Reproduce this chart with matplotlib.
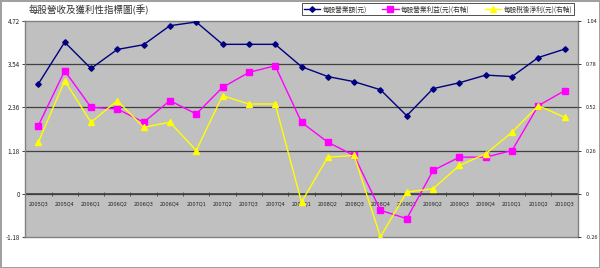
import numpy as np
import matplotlib.pyplot as plt

plt.rcParams['font.family'] = ['Noto Sans CJK TC', 'DejaVu Sans']

quarters = ['2005Q3', '2005Q4', '2006Q1', '2006Q2', '2006Q3', '2006Q4', '2007Q1',
            '2007Q2', '2007Q3', '2007Q4', '2008Q1', '2008Q2', '2008Q3', '2008Q4',
            '2009Q1', '2009Q2', '2009Q3', '2009Q4', '2010Q1', '2010Q2', '2010Q3']

# left axis
revenue = [3.00, 4.14, 3.42, 3.94, 4.07, 4.59, 4.69, 4.08, 4.08, 4.08, 3.47,
           3.20, 3.06, 2.84, 2.13, 2.87, 3.03, 3.24, 3.20, 3.72, 3.95]
# right axis
op_profit = [0.41, 0.74, 0.52, 0.51, 0.43, 0.56, 0.48, 0.64, 0.73, 0.77, 0.43,
             0.31, 0.23, -0.10, -0.15, 0.14, 0.22, 0.22, 0.26, 0.53, 0.62]
net_profit = [0.31, 0.68, 0.43, 0.56, 0.40, 0.43, 0.26, 0.59, 0.54, 0.54, -0.05,
              0.22, 0.23, -0.26, 0.01, 0.03, 0.17, 0.24, 0.37, 0.53, 0.46]

left_ticks = [-1.18, 0, 1.18, 2.36, 3.54, 4.72]
right_ticks = [-0.26, 0, 0.26, 0.52, 0.78, 1.04]

fig = plt.figure(figsize=(6, 2.68), dpi=100)
fig.patch.set_edgecolor('#a0a0a0')
fig.patch.set_linewidth(2)
ax = fig.add_axes([0.042, 0.116, 0.921, 0.806])
ax.set_facecolor('#c0c0c0')

x = np.arange(len(quarters))
ax.set_xlim(-0.5, len(quarters) - 0.5)
ax.set_ylim(left_ticks[0], left_ticks[-1])
ax.set_yticks(left_ticks)
ax.set_yticklabels(['-1.18', '0', '1.18', '2.36', '3.54', '4.72'], fontsize=4.5)
ax.set_xticks([])
for v in left_ticks[1:-1]:
    ax.axhline(v, color='#404040', lw=0.9, zorder=1)
ax.axhline(0, color='#404040', lw=1.2, zorder=1)
# small tick marks between categories on the zero line
ax.plot(x[:-1] + 0.5, np.zeros(len(x) - 1), ls='none', marker='|', ms=2.5,
        color='#404040', mew=0.6, zorder=1)
for xi, q in zip(x, quarters):
    ax.text(xi, -0.2, q, fontsize=3.6, ha='center', va='top', color='#202020',
            family='DejaVu Sans')

for s in ax.spines.values():
    s.set_color('#808080')
    s.set_linewidth(1)
ax.tick_params(axis='y', length=2, width=0.6, pad=2, colors='#202020')

l1, = ax.plot(x, revenue, color='#000080', marker='D', ms=2.8, lw=1.0, zorder=3,
              label='每股營業額(元)')

ax2 = ax.twinx()
ax2.set_ylim(right_ticks[0], right_ticks[-1])
ax2.set_yticks(right_ticks)
ax2.set_yticklabels(['-0.26', '0', '0.26', '0.52', '0.78', '1.04'], fontsize=4)
ax2.tick_params(axis='y', length=2, width=0.6, pad=4, colors='#202020')
for s in ax2.spines.values():
    s.set_visible(False)
l2, = ax2.plot(x, op_profit, color='#ff00ff', marker='s', ms=4.6, lw=1.0, zorder=3,
               label='每股營業利益(元)(右軸)')
l3, = ax2.plot(x, net_profit, color='#ffff00', marker='^', ms=4.6, lw=1.0, zorder=3,
               label='每股稅後淨利(元)(右軸)')

fig.text(0.047, 0.962, '每股營收及獲利性指標圖(季)', fontsize=6.8, ha='left',
         va='center', color='#303030')
leg = fig.legend(handles=[l1, l2, l3], loc='center right', ncol=3,
                 bbox_to_anchor=(0.963, 0.965), fontsize=4.8, frameon=True,
                 fancybox=False, borderpad=0.3, handlelength=2.5,
                 columnspacing=2.2, handletextpad=0.4, labelcolor='#303030')
leg.get_frame().set_edgecolor('#000000')
leg.get_frame().set_linewidth(0.6)

fig.savefig('out.png', dpi=100)
